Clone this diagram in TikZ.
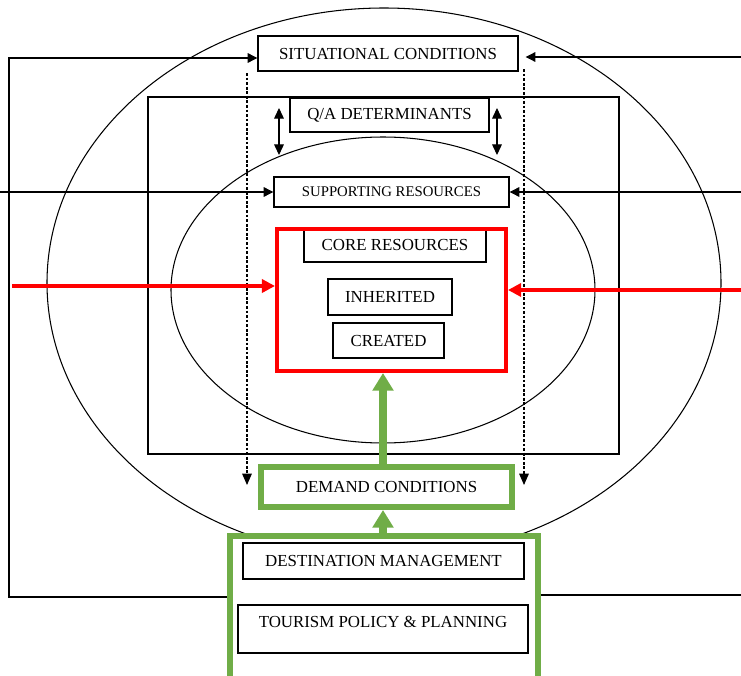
\documentclass[tikz,border=0pt]{standalone}
\usepackage{fontspec}
\setmainfont{Liberation Serif}
\usetikzlibrary{arrows.meta}
\definecolor{leafgreen}{RGB}{112,173,71}

\tikzset{
	box/.style={draw,line width=0.8pt,fill=white,inner sep=0pt},
	greenbox/.style={draw=leafgreen,line width=3.4pt,fill=white,inner sep=0pt},
	blacktip/.style={-{Triangle[length=5.5pt,width=5.5pt]}},
	bothtips/.style={{Triangle[length=6pt,width=5.5pt]}-{Triangle[length=6pt,width=5.5pt]}},
	dashtip/.style={dash pattern=on 1.6pt off 1pt,-{Triangle[length=6.5pt,width=5.5pt]}},
	redtip/.style={red,line width=2.3pt,-{Triangle[length=7.5pt,width=7.5pt]}},
	greentip/.style={leafgreen,line width=4pt,-{Triangle[length=10pt,width=11.5pt]}}
}

\begin{document}
\begin{tikzpicture}[x=0.02cm,y=-0.02cm,line width=0.6pt,font=\fontsize{9.6}{11}\selectfont]
	\useasboundingbox (0,0) rectangle (741,676);
	% the two rings
	\draw (384,283) ellipse [x radius=337,y radius=275];
	\draw (383,290) ellipse [x radius=212,y radius=153];
	% vertical dashed lines and the two-way arrows
	\foreach \x/\y in {247/73,524/69}
		\draw[dashtip] (\x,\y) -- (\x,485);
	\foreach \x in {279,497}
		\draw[bothtips] (\x,108) -- (\x,155);
	\coordinate (gx) at (383,0);

	% boxes
	\node[box,minimum width=5.2cm,minimum height=0.7cm] (sitcond) at (388,53.5) {SITUATIONAL CONDITIONS};
	\node[box,minimum width=3.98cm,minimum height=0.68cm] (qadet) at (389.5,115) {Q/A DETERMINANTS};
	\node[box,minimum width=4.7cm,minimum height=0.6cm,font=\fontsize{8.4}{10}\selectfont] (suppres) at (391.5,192) {SUPPORTING RESOURCES};
	\node[box,minimum width=3.64cm,minimum height=0.68cm] (coreres) at (395,245) {CORE RESOURCES};
	\node[box,minimum width=2.48cm,minimum height=0.72cm] (inherited) at (390,297) {INHERITED};
	\node[box,minimum width=2.22cm,minimum height=0.7cm] (created) at (388.5,340.5) {CREATED};
	\node[draw=red,line width=2.3pt,inner sep=0pt,minimum width=4.58cm,minimum height=2.84cm] (redbox) at (391.5,300) {};
	\node[greenbox,minimum width=5.02cm,minimum height=0.8cm] (demand) at (386.5,487) {DEMAND CONDITIONS};
	\node[greenbox,minimum width=6.16cm,minimum height=3.28cm] (mgmtbox) at (384,618) {};
	\node[box,minimum width=5.62cm,minimum height=0.72cm] (destmgmt) at (383.5,561) {DESTINATION MANAGEMENT};
	\node[box,minimum width=5.8cm,inner ysep=0pt,text height=12.8pt,text depth=14.4pt] (policy) at (383,629) {TOURISM POLICY \& PLANNING};

	% destination boundary
	\draw[line width=1.7pt] (148,97) rectangle (619,454);

	% outside links
	\draw[blacktip] (mgmtbox.west |- 0,597) -| (9,58) -- (sitcond.west |- 0,58);
	\draw[blacktip,shorten >=4pt] (741,57) -- (sitcond.east |- 0,57);
	\draw (mgmtbox.east |- 0,595) -- (741,595);
	\draw[blacktip] (0,192) -- (suppres.west);
	\draw[blacktip] (741,192) -- (suppres.east);
	\draw[redtip] (12,286) -- (redbox.west |- 0,286);
	\draw[redtip] (741,290) -- (redbox.east |- 0,290);
	\draw[greentip] (demand.north -| gx) -- (redbox.south -| gx);
	\draw[greentip] (mgmtbox.north -| gx) -- (demand.south -| gx);
\end{tikzpicture}
\end{document}
